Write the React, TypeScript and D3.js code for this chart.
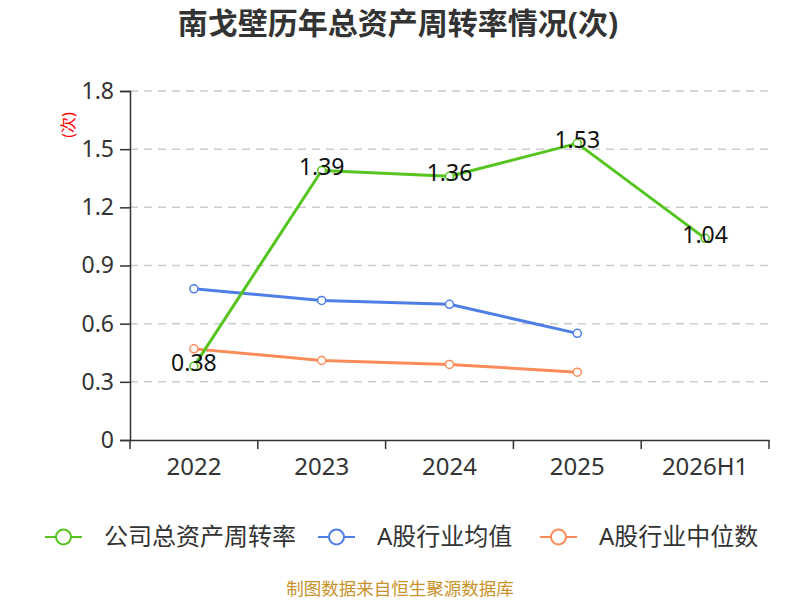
import React, { useEffect, useRef } from "react";
import * as d3 from "d3";

const categories = ["2022", "2023", "2024", "2025", "2026H1"];
const companyValues = [0.38, 1.39, 1.36, 1.53, 1.04];
const industryMean = [0.78, 0.72, 0.7, 0.55];
const industryMedian = [0.47, 0.41, 0.39, 0.35];
const yTicks = [0, 0.3, 0.6, 0.9, 1.2, 1.5, 1.8];
const seriesNames = ["公司总资产周转率", "A股行业均值", "A股行业中位数"];

const width = 800;
const height = 600;
const margin = { left: 130, right: 31, top: 91, bottom: 160 };
const colors = ["#55c41e", "#4f7fe6", "#fc8c5a"];
const font = "'Noto Sans', 'Noto Sans CJK SC', sans-serif";

const Chart = () => {
  const ref = useRef(null);

  useEffect(() => {
    const svg = d3.select(ref.current);
    svg.selectAll("*").remove();

    const x = d3
      .scaleBand()
      .domain(categories)
      .range([margin.left, width - margin.right]);
    const y = d3
      .scaleLinear()
      .domain([0, 1.8])
      .range([height - margin.bottom, margin.top]);

    // title
    svg
      .append("text")
      .attr("x", 398)
      .attr("y", 34)
      .attr("text-anchor", "middle")
      .attr("font-size", 30)
      .attr("font-weight", "bold")
      .attr("font-family", font)
      .attr("fill", "#333")
      .text("南戈壁历年总资产周转率情况(次)");

    // unit
    svg
      .append("text")
      .attr("transform", "translate(74,125) rotate(-90)")
      .attr("text-anchor", "middle")
      .attr("font-size", 16)
      .attr("font-family", font)
      .attr("fill", "#ff0000")
      .text("(次)");

    // grid lines
    svg
      .append("g")
      .selectAll("line")
      .data(yTicks.filter((d) => d > 0))
      .join("line")
      .attr("x1", margin.left)
      .attr("x2", width - margin.right)
      .attr("y1", (d) => y(d))
      .attr("y2", (d) => y(d))
      .attr("stroke", "#cccccc")
      .attr("stroke-width", 1.5)
      .attr("stroke-dasharray", "8,6");

    // y axis
    const yAxis = svg
      .append("g")
      .attr("transform", `translate(${margin.left},0)`)
      .call(
        d3
          .axisLeft(y)
          .tickValues(yTicks)
          .tickSize(10)
          .tickPadding(6)
          .tickFormat((d) => (d === 0 ? "0" : d3.format(".1f")(d as number)))
      );
    yAxis.select(".domain").attr("stroke", "#333").attr("stroke-width", 1.5);
    yAxis.selectAll(".tick line").attr("stroke", "#333").attr("stroke-width", 1.5);
    yAxis
      .selectAll(".tick text")
      .attr("font-size", 23)
      .attr("font-family", font)
      .attr("fill", "#333");

    // x axis
    const xAxis = svg
      .append("g")
      .attr("transform", `translate(0,${height - margin.bottom})`)
      .call(d3.axisBottom(x).tickSize(0).tickPadding(18));
    xAxis.select(".domain").attr("stroke", "#333").attr("stroke-width", 1.5);
    xAxis
      .selectAll(".tick text")
      .attr("font-size", 24)
      .attr("font-family", font)
      .attr("fill", "#333");
    // boundary ticks
    const bounds = categories.map((c) => x(c)!).concat([width - margin.right]);
    svg
      .append("g")
      .selectAll("line")
      .data(bounds)
      .join("line")
      .attr("x1", (d) => d)
      .attr("x2", (d) => d)
      .attr("y1", height - margin.bottom)
      .attr("y2", height - margin.bottom + 9)
      .attr("stroke", "#333")
      .attr("stroke-width", 1.5);

    const cx = (i: number) => x(categories[i])! + x.bandwidth() / 2;
    const line = d3
      .line<number>()
      .x((_, i) => cx(i))
      .y((d) => y(d));

    const series = [industryMedian, industryMean, companyValues];
    const seriesColors = [colors[2], colors[1], colors[0]];
    series.forEach((data, si) => {
      svg
        .append("path")
        .datum(data)
        .attr("d", line)
        .attr("fill", "none")
        .attr("stroke", seriesColors[si])
        .attr("stroke-width", 3)
        .attr("stroke-linejoin", "round");
      svg
        .append("g")
        .selectAll("circle")
        .data(data)
        .join("circle")
        .attr("cx", (_, i) => cx(i))
        .attr("cy", (d) => y(d))
        .attr("r", 4)
        .attr("fill", "#fff")
        .attr("stroke", seriesColors[si])
        .attr("stroke-width", 1.5);
    });

    // data labels
    svg
      .append("g")
      .selectAll("text")
      .data(companyValues)
      .join("text")
      .attr("x", (_, i) => cx(i))
      .attr("y", (d) => y(d) + 5)
      .attr("text-anchor", "middle")
      .attr("font-size", 23)
      .attr("font-family", font)
      .attr("fill", "#111")
      .text((d) => d3.format(".2f")(d));

    // legend
    const legendX = [45, 318, 540];
    const legend = svg
      .append("g")
      .selectAll("g")
      .data(seriesNames)
      .join("g")
      .attr("transform", (_, i) => `translate(${legendX[i]},537)`);
    legend
      .append("line")
      .attr("x1", 0)
      .attr("x2", 37)
      .attr("stroke", (_, i) => colors[i])
      .attr("stroke-width", 2);
    legend
      .append("circle")
      .attr("cx", 18.5)
      .attr("r", 7.5)
      .attr("fill", "#fff")
      .attr("stroke", (_, i) => colors[i])
      .attr("stroke-width", 2);
    legend
      .append("text")
      .attr("x", 59)
      .attr("y", 8)
      .attr("font-size", 24)
      .attr("font-family", font)
      .attr("fill", "#333")
      .text((d) => d);

    // source
    svg
      .append("text")
      .attr("x", 400)
      .attr("y", 595)
      .attr("text-anchor", "middle")
      .attr("font-size", 17.5)
      .attr("font-family", font)
      .attr("fill", "#c8922a")
      .text("制图数据来自恒生聚源数据库");
  }, []);

  return (
    <svg
      ref={ref}
      width={width}
      height={height}
      style={{ fontFamily: font, display: "block" }}
    />
  );
};

export default function App() {
  useEffect(() => {
    document.body.style.margin = "0";
    document.body.style.overflow = "hidden";
  }, []);
  return <Chart />;
}
